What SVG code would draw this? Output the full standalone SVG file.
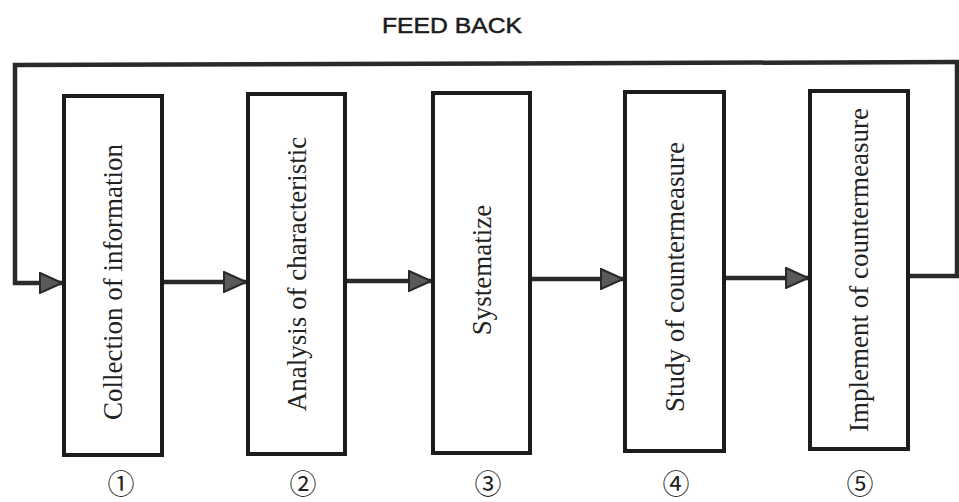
<svg xmlns="http://www.w3.org/2000/svg" width="959" height="502" viewBox="0 0 959 502">
<style>
  .box { fill: #ffffff; stroke: #1c1c1c; stroke-width: 4; }
  .lbl { font-family: "Liberation Serif", "Times New Roman", serif; font-size: 27px; fill: #222222; text-anchor: middle; }
  .num { font-family: "Noto Sans CJK JP", "DejaVu Sans", sans-serif; font-size: 27px; fill: #222222; text-anchor: middle; dominant-baseline: central; }
  .title { font-family: "Liberation Sans", Arial, sans-serif; font-size: 22px; fill: #1c1c1c; stroke: #1c1c1c; stroke-width: 0.5; text-anchor: middle; }
  .conn { fill: none; stroke: #2a2a2a; stroke-width: 4.5; stroke-linejoin: miter; }
</style>
<defs>
  <marker id="arrow" markerUnits="userSpaceOnUse" viewBox="0 0 24 22" refX="23" refY="11" markerWidth="24" markerHeight="22" orient="auto">
    <path d="M1,1 L23,11 L1,21 Z" fill="#5a5a5a" stroke="#2a2a2a" stroke-width="2"/>
  </marker>
</defs>
<rect width="959" height="502" fill="#ffffff"/>
<text class="title" x="452" y="33" textLength="140" lengthAdjust="spacingAndGlyphs">FEED BACK</text>

<g id="connectors">
  <polyline class="conn" points="959,62 15,65 15,283 62,283" marker-end="url(#arrow)"/>
  <line class="conn" x1="957" y1="62" x2="957" y2="276"/>
  <line class="conn" x1="908" y1="276" x2="959" y2="276"/>
  <line class="conn" x1="162" y1="282" x2="246" y2="282" marker-end="url(#arrow)"/>
  <line class="conn" x1="345" y1="281" x2="431" y2="281" marker-end="url(#arrow)"/>
  <line class="conn" x1="530" y1="279" x2="623" y2="279" marker-end="url(#arrow)"/>
  <line class="conn" x1="724" y1="278" x2="808" y2="278" marker-end="url(#arrow)"/>
</g>

<g id="node1">
  <rect class="box" x="64" y="96" width="98" height="359"/>
  <text class="lbl" transform="translate(122,282) rotate(-90)">Collection of information</text>
  <text class="num" x="121" y="482">①</text>
</g>
<g id="node2">
  <rect class="box" x="248" y="94" width="97" height="360"/>
  <text class="lbl" transform="translate(306,274) rotate(-90)">Analysis of characteristic</text>
  <text class="num" x="303" y="482">②</text>
</g>
<g id="node3">
  <rect class="box" x="433" y="93" width="97" height="360"/>
  <text class="lbl" transform="translate(491,270) rotate(-90)">Systematize</text>
  <text class="num" x="488" y="482">③</text>
</g>
<g id="node4">
  <rect class="box" x="625" y="92" width="99" height="359"/>
  <text class="lbl" transform="translate(684,277) rotate(-90)">Study of countermeasure</text>
  <text class="num" x="676" y="482">④</text>
</g>
<g id="node5">
  <rect class="box" x="810" y="91" width="98" height="358"/>
  <text class="lbl" transform="translate(868,270) rotate(-90)">Implement of countermeasure</text>
  <text class="num" x="860" y="482">⑤</text>
</g>
</svg>
